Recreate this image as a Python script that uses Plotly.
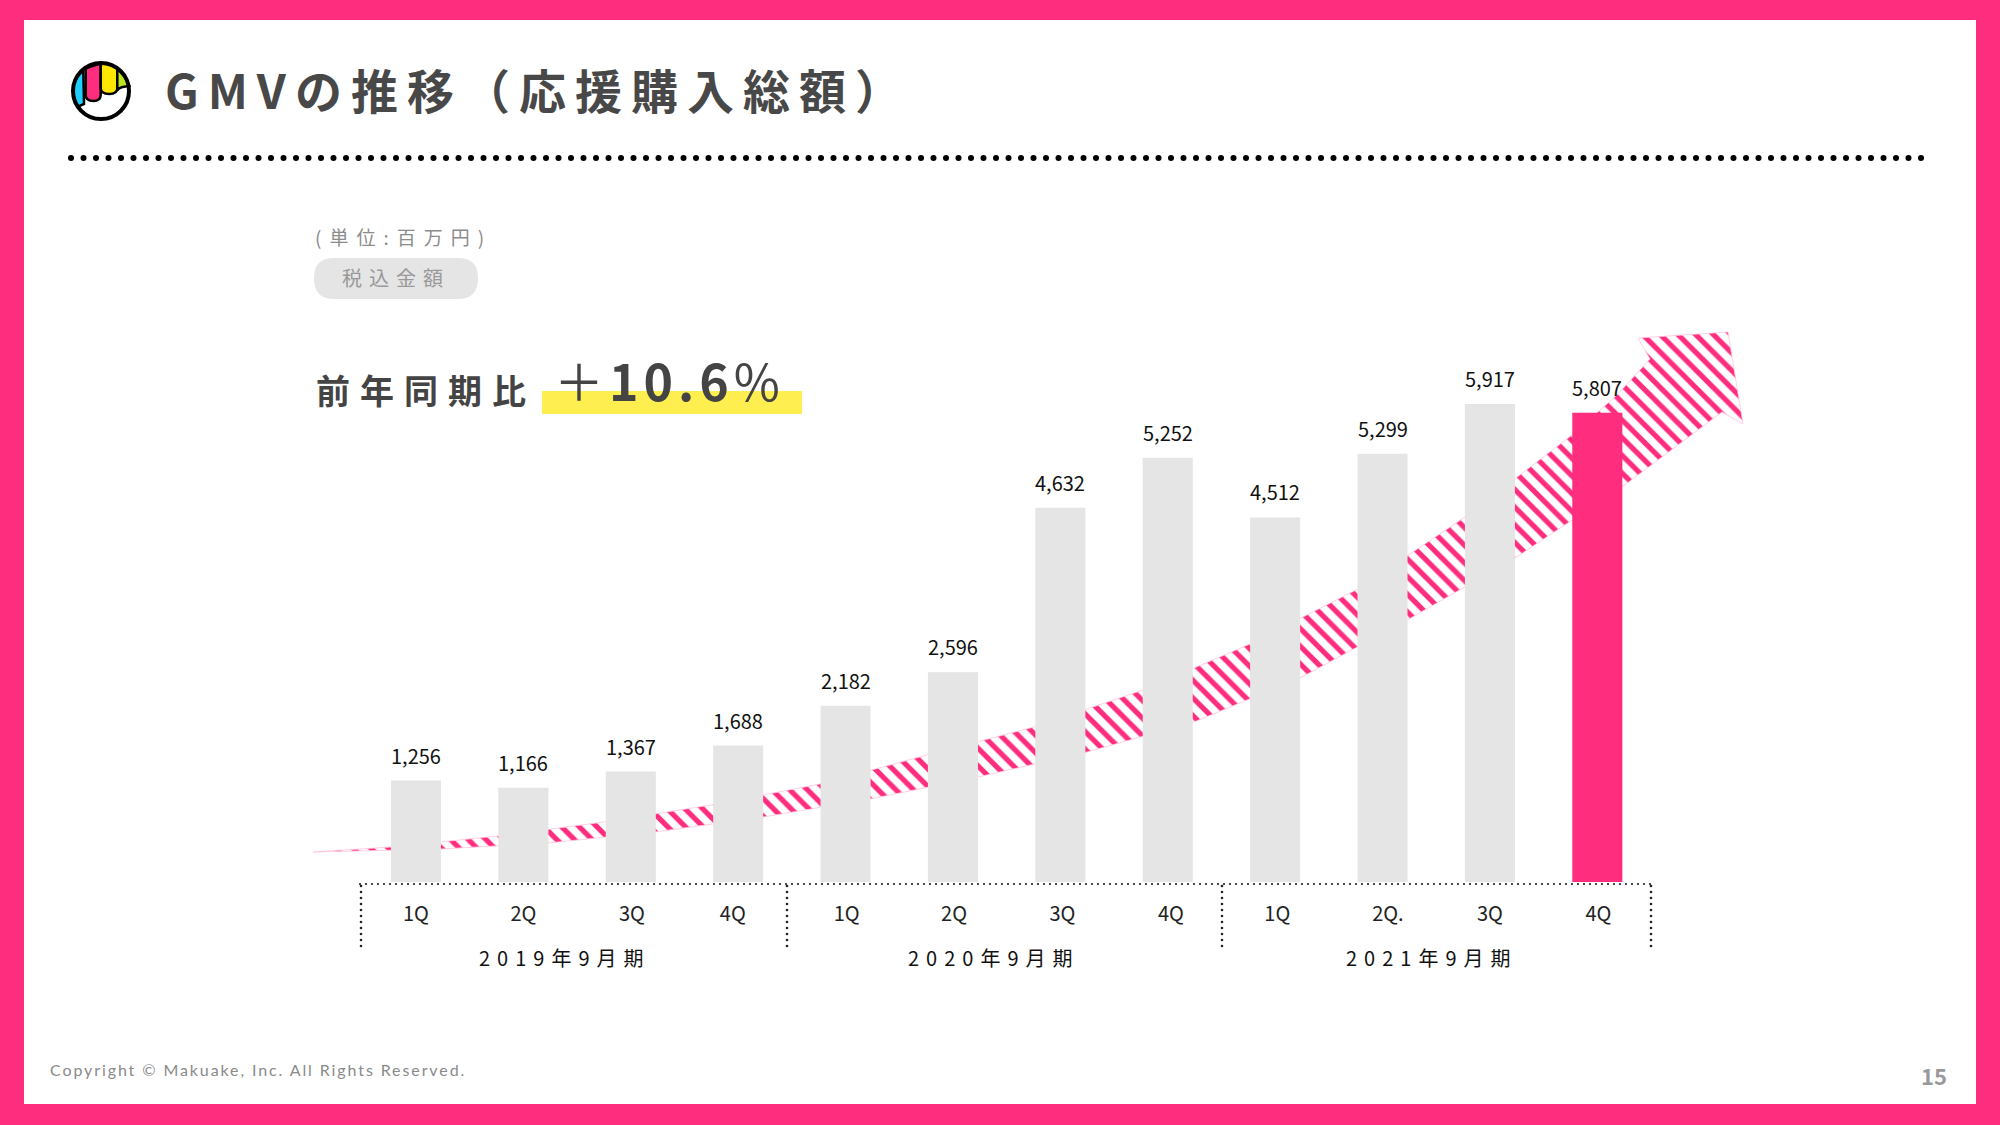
import numpy as np
import plotly.graph_objects as go

# 単位: 百万円
quarters = ["1Q", "2Q", "3Q", "4Q", "1Q", "2Q", "3Q", "4Q", "1Q", "2Q.", "3Q", "4Q"]
gmv = [1256, 1166, 1367, 1688, 2182, 2596, 4632, 5252, 4512, 5299, 5917, 5807]
fiscal_years = ["2019年9月期", "2020年9月期", "2021年9月期"]

PINK = "#FF2D7E"
GREY = "#E5E5E5"
FONT = "Noto Sans CJK JP"

# decoration is laid out in page pixels on x/y
arrow_x = [313, 391, 498, 604, 711, 820, 927, 1034, 1143, 1250, 1358, 1465, 1572, 1617, 1650, 1638, 1728, 1743, 1722,
           1622, 1515, 1409, 1300, 1194, 1087, 978, 870, 763, 655, 548, 441, 313]
arrow_y = [852, 847, 836, 822, 805, 784, 755, 727, 690, 644, 589, 517, 435, 395, 359, 338, 332, 424, 412,
           487, 558, 619, 678, 722, 752, 777, 799, 817, 832, 843, 849, 852]

# quarter labels do not sit exactly under their bars in the original
tick_nudge = [0, 0, 0.01, -0.05, 0.01, 0.01, 0.02, 0.03, 0.02, 0.05, 0, 0.01]


def spaced(text, px):
    return f'<span style="letter-spacing:{px}px">{text}</span>'


def page_text(fig, x, y, text, size, color, anchor="left", weight=None, family=FONT):
    fig.add_annotation(x=x, y=y, xref="x", yref="y", text=text, showarrow=False, xanchor=anchor, yanchor="middle",
                       font=dict(family=family, size=size, color=color, weight=weight))


def logo_path(points):
    out = []
    for cmd, coords in points:
        out.append(cmd + " ".join(f"{50 + px / 3:.1f},{40 + py / 3:.1f}" for px, py in coords))
    return " ".join(out) + " Z"


fig = go.Figure()

# ----- arrow behind the bars
fig.add_trace(go.Scatter(x=arrow_x, y=arrow_y, mode="lines", fill="toself", xaxis="x", yaxis="y",
                         line=dict(color="#FFC4DC", width=0.8),
                         fillcolor="white",
                         fillpattern=dict(shape="\\", size=12.5, solidity=0.42, fgcolor=PINK, fgopacity=1, bgcolor="white"),
                         hoverinfo="skip"))

# ----- dotted lines
rule_x = np.arange(71, 1922, 12.5)
fig.add_trace(go.Scatter(x=rule_x, y=[158] * len(rule_x), mode="markers", xaxis="x", yaxis="y",
                         marker=dict(color="black", size=6), hoverinfo="skip"))
base_x = np.arange(360, 1652, 6)
fig.add_trace(go.Scatter(x=base_x, y=[884] * len(base_x), mode="markers", xaxis="x", yaxis="y",
                         marker=dict(color="#222222", size=2.2), hoverinfo="skip"))
for vx in [361, 787, 1222, 1651]:
    vy = np.arange(886, 948, 6)
    fig.add_trace(go.Scatter(x=[vx] * len(vy), y=vy, mode="markers", xaxis="x", yaxis="y",
                             marker=dict(color="#222222", size=2.6), hoverinfo="skip"))

# ----- bars
bar_colors = [GREY] * (len(gmv) - 1) + [PINK]
fig.add_trace(go.Bar(x=list(range(len(gmv))), y=gmv, width=0.466, marker=dict(color=bar_colors, line_width=0),
                     xaxis="x2", yaxis="y2", hoverinfo="skip"))

for i, v in enumerate(gmv):
    fig.add_annotation(x=i, y=v, xref="x2", yref="y2", text=f"{v:,}", showarrow=False, yanchor="bottom", yshift=9,
                       font=dict(family=FONT, size=20, color="#111111"))

# ----- page texts
page_text(fig, 163, 88, spaced("GMVの推移（応援購入総額）", 9), 47, "#484848", weight="bold")
page_text(fig, 313, 236, spaced("(単位:百万円)", 8), 19, "#8C8C8C")
page_text(fig, 396, 277, spaced("税込金額", 7), 20, "#999999", anchor="center")
page_text(fig, 314, 389, spaced("前年同期比", 10), 34, "#444444", weight="bold")
page_text(fig, 552, 379, spaced("＋<b>10.6</b>%", 5), 50, "#444444")
for label, cx in zip(fiscal_years, [565, 994, 1432]):
    page_text(fig, cx, 957, spaced(label, 7), 20, "#111111", anchor="center")
page_text(fig, 48, 1069, spaced("Copyright © Makuake, Inc. All Rights Reserved.", 1.9), 16, "#8A8A8A", family="Lato")
page_text(fig, 1934, 1075, "15", 22, "#999999", anchor="center", weight="bold")

# ----- shapes: frame, pill, highlight, logo
shapes = [
    dict(type="rect", x0=24, x1=1976, y0=20, y1=1104, fillcolor="white", line_width=0),
    dict(type="rect", x0=542, x1=802, y0=391, y1=414, fillcolor="#FFEE50", line_width=0),
    dict(type="path", path="M334,258 L458,258 Q478,258 478,278 Q478,299 458,299 L334,299 Q314,299 314,278 Q314,258 334,258 Z",
         fillcolor=GREY, line_width=0),
    dict(type="circle", x0=73, x1=129, y0=63, y1=119, fillcolor="white", line_width=0),
]
stripes = [
    ("#1FCFFF", [("M", [(100, 92)]), ("C", [(80, 105), (68, 130), (70, 155)]), ("C", [(71, 175), (76, 190), (84, 200)]),
                 ("L", [(102, 192)])]),
    (PINK, [("M", [(107, 85)]), ("L", [(152, 70)]), ("L", [(152, 165)]), ("Q", [(152, 183), (130, 183)]),
            ("Q", [(107, 183), (107, 165)])]),
    ("#FFE600", [("M", [(152, 70)]), ("Q", [(180, 70), (202, 85)]), ("L", [(202, 145)]), ("Q", [(202, 162), (178, 162)]),
                 ("Q", [(152, 162), (152, 145)])]),
    ("#B9E61E", [("M", [(202, 87)]), ("Q", [(225, 105), (238, 138)]), ("L", [(222, 140)]), ("Q", [(205, 143), (202, 152)])]),
]
for color, points in stripes:
    shapes.append(dict(type="path", path=logo_path(points), fillcolor=color, line=dict(color="black", width=2.5)))
shapes.append(dict(type="circle", x0=73, x1=129, y0=63, y1=119, fillcolor="rgba(0,0,0,0)", line=dict(color="black", width=4)))
for s in shapes:
    s.update(xref="x", yref="y", layer="below")

fig.update_layout(
    width=2000,
    height=1125,
    autosize=False,
    margin=dict(l=0, r=0, t=0, b=0, pad=0),
    paper_bgcolor=PINK,
    plot_bgcolor="rgba(0,0,0,0)",
    showlegend=False,
    hovermode=False,
    shapes=shapes,
    xaxis=dict(domain=[0, 1], range=[0, 2000], visible=False, fixedrange=True),
    yaxis=dict(domain=[0, 1], range=[1125, 0], visible=False, fixedrange=True),
    xaxis2=dict(domain=[360 / 2000, 1651 / 2000], range=[-0.5214, 11.5], anchor="y2", showgrid=False, zeroline=False,
                showline=False, ticks="", tickmode="array",
                tickvals=[i + d for i, d in enumerate(tick_nudge)], ticktext=quarters,
                tickfont=dict(family=FONT, size=20, color="#222222"), ticklabelstandoff=18, fixedrange=True),
    yaxis2=dict(domain=[(1125 - 882) / 1125, (1125 - 882 + 7000 * 0.0808) / 1125], range=[0, 7000], anchor="x2",
                visible=False, fixedrange=True),
)

fig.write_html("out.html", post_script="document.body.style.margin='0';", config=dict(displayModeBar=False))
